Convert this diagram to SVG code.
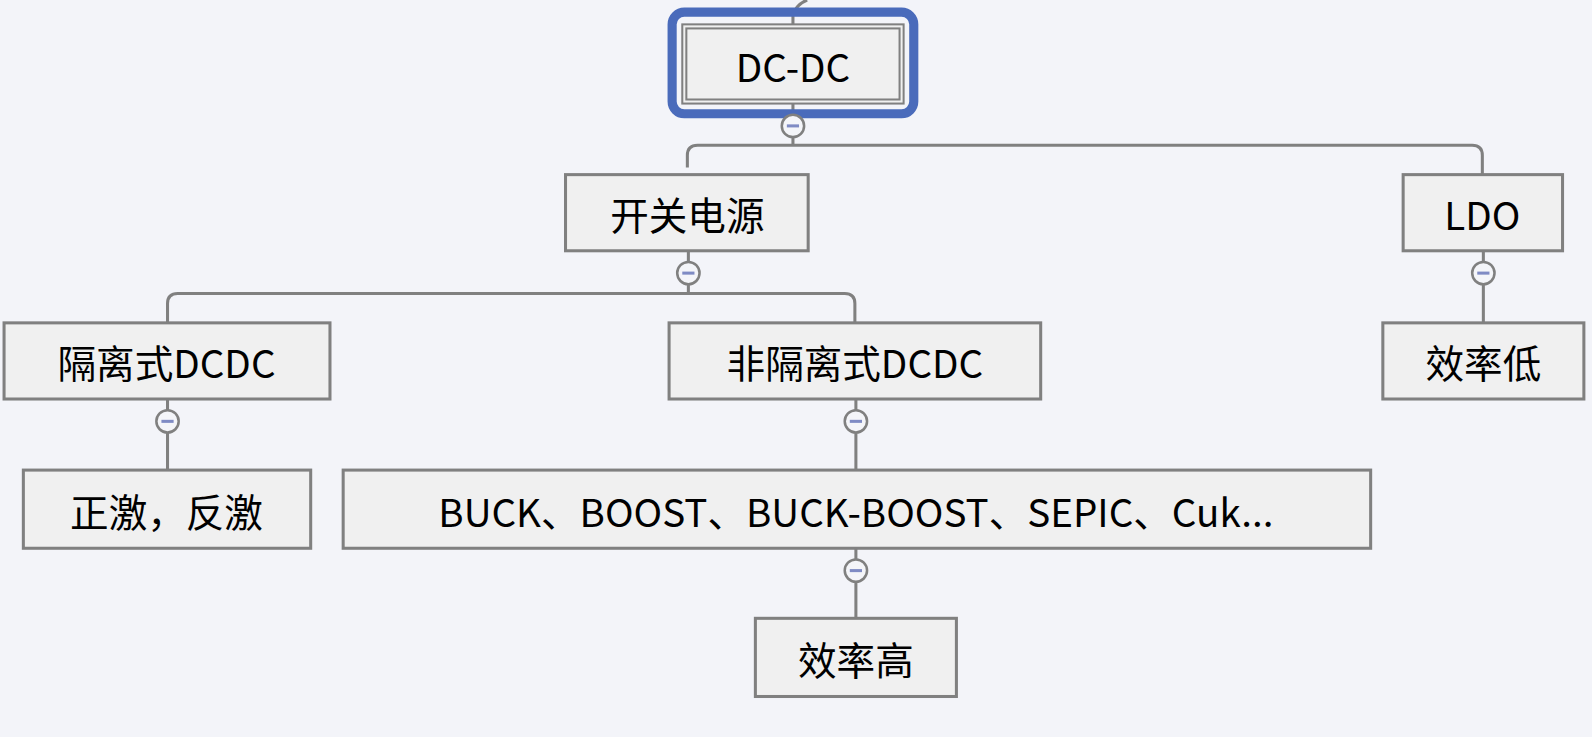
<svg xmlns="http://www.w3.org/2000/svg" width="1592" height="737" viewBox="0 0 1592 737">
<style>
.n{fill:#f0f0f0;stroke:#808080;stroke-width:3}
.t{font-family:"Noto Sans CJK SC","Liberation Sans",sans-serif;font-size:38px;fill:#000;text-anchor:middle;dominant-baseline:central}
.c{fill:none;stroke:#808080;stroke-width:3}
.b{fill:#f4f5f9;stroke:#808080;stroke-width:2.5}
.m{stroke:#7f8bc4;stroke-width:3}
</style>
<rect width="1592" height="737" fill="#f3f4f9"/>
<g transform="scale(1.0153)">
<g id="connectors">
<path class="c" d="M795 0 Q785 4 781 14 V24"/>
<path class="c" d="M781 102 V143 M677 165 V153 Q677 143 687 143 H1450 Q1460 143 1460 153 V172"/>
<path class="c" d="M678 247 V289 M165 318 V299 Q165 289 175 289 H832 Q842 289 842 299 V318"/>
<path class="c" d="M165 393 V463 M843 393 V463 M843 540 V609 M1461 247 V318"/>
</g>
<g id="n-dcdc"><rect x="662" y="12" width="238" height="100" rx="12" fill="none" stroke="#4a6bbb" stroke-width="9"/><rect x="672" y="24" width="218" height="78" fill="#f0f0f0" stroke="#808080" stroke-width="2"/><rect x="676" y="28" width="210" height="70" fill="none" stroke="#808080" stroke-width="2"/><text class="t" x="781" y="64">DC-DC</text></g>
<g id="n-kg"><rect class="n" x="557" y="172" width="239" height="75"/><text class="t" x="677" y="210">开关电源</text></g>
<g id="n-ldo"><rect class="n" x="1382" y="172" width="157" height="75"/><text class="t" x="1460" y="210">LDO</text></g>
<g id="n-xld"><rect class="n" x="1362" y="318" width="198" height="75"/><text class="t" x="1461" y="356">效率低</text></g>
<g id="n-glsh"><rect class="n" x="4" y="318" width="321" height="75"/><text class="t" x="164" y="356">隔离式DCDC</text></g>
<g id="n-zj"><rect class="n" x="23" y="463" width="283" height="77"/><text class="t" x="164" y="502">正激，反激</text></g>
<g id="n-fgl"><rect class="n" x="659" y="318" width="366" height="75"/><text class="t" x="842" y="356">非隔离式DCDC</text></g>
<g id="n-buck"><rect class="n" x="338" y="463" width="1012" height="77"/><text class="t" x="843" y="502">BUCK、BOOST、BUCK-BOOST、SEPIC、Cuk...</text></g>
<g id="n-xlg"><rect class="n" x="744" y="609" width="198" height="77"/><text class="t" x="843" y="648">效率高</text></g>
<g id="buttons">
<circle class="b" cx="781" cy="124" r="11"/><line class="m" x1="775" y1="124" x2="787" y2="124"/>
<circle class="b" cx="678" cy="269" r="11"/><line class="m" x1="672" y1="269" x2="684" y2="269"/>
<circle class="b" cx="1461" cy="269" r="11"/><line class="m" x1="1455" y1="269" x2="1467" y2="269"/>
<circle class="b" cx="165" cy="415" r="11"/><line class="m" x1="159" y1="415" x2="171" y2="415"/>
<circle class="b" cx="843" cy="415" r="11"/><line class="m" x1="837" y1="415" x2="849" y2="415"/>
<circle class="b" cx="843" cy="562" r="11"/><line class="m" x1="837" y1="562" x2="849" y2="562"/>
</g>
</g>
</svg>
